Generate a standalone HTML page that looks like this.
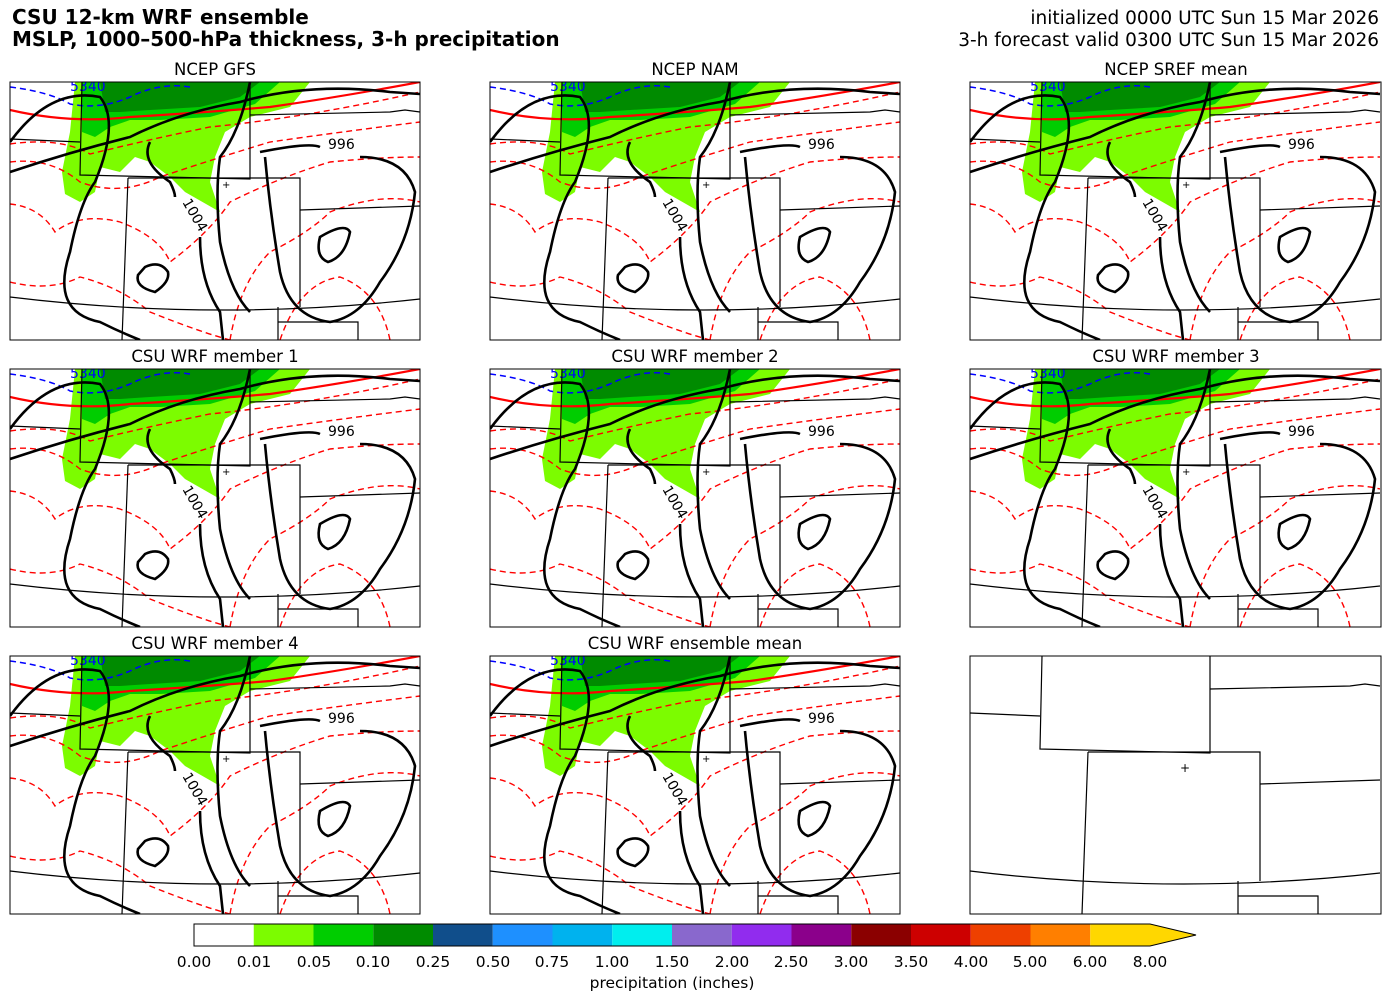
<!DOCTYPE html>
<html><head><meta charset="utf-8"><style>
body{margin:0;background:#fff;}
svg{display:block;font-family:"DejaVu Sans","Liberation Sans",sans-serif;}
</style></head><body>
<svg width="1391" height="1001" viewBox="0 0 1391 1001" xmlns="http://www.w3.org/2000/svg">
<defs>
<clipPath id="pc"><rect x="0" y="0" width="410" height="258"/></clipPath>
<g id="borders" fill="none" stroke="#000" stroke-width="1.2">
  <path d="M72,0 L70,93 L240,97 L240,0"/>
  <path d="M0,57 L70,60"/>
  <path d="M118,96 L290,96 L290,225"/>
  <path d="M118,96 L112,258"/>
  <path d="M240,33 L380,30 L395,28 L410,30"/>
  <path d="M290,128 L410,124"/>
  <path d="M0,215 Q205,240 410,217"/>
  <path d="M268,225 L268,258 M268,240 L348,240 L348,258"/>
</g>
<g id="content" clip-path="url(#pc)">
  <path d="M65,0 L300,0 L280,25 L240,35 L215,50 L205,75 L200,100 L210,130 L175,110 L160,95 L140,80 L125,75 L110,90 L90,85 L85,110 L70,120 L55,112 L52,90 L60,50 Z" fill="#7cfc00"/>
  <path d="M72,0 L270,0 L245,22 L200,35 L150,38 L120,38 L100,45 L85,55 L72,50 Z" fill="#00cd00"/>
  <path d="M90,0 L250,0 L230,15 L190,25 L140,28 L110,30 L95,30 Z" fill="#008b00"/>
  <path d="M0,5 Q40,10 60,22 Q90,28 120,15 Q150,0 180,5" fill="none" stroke="#0000ff" stroke-width="1.5" stroke-dasharray="6,4"/>
  <path d="M0,28 Q60,42 120,35 Q200,30 260,25 Q330,15 410,0" fill="none" stroke="#ff0000" stroke-width="2.2"/>
  <g fill="none" stroke="#ff0000" stroke-width="1.4" stroke-dasharray="6,4">
    <path d="M0,62 Q50,55 80,72 Q150,55 200,45 Q300,35 410,10"/>
    <path d="M0,80 Q40,75 70,100 Q110,115 150,95 Q210,75 260,60 Q330,50 410,40"/>
    <path d="M0,122 Q30,125 45,150 Q70,130 110,140 Q150,155 160,180 Q200,150 220,120 Q270,95 320,80 Q370,75 410,75"/>
    <path d="M0,200 Q40,210 70,195 Q110,205 140,230 Q190,250 220,258"/>
    <path d="M220,258 Q230,200 260,170 Q300,150 320,130 Q370,110 410,120"/>
    <path d="M270,258 Q290,200 330,195 Q370,210 380,258"/>
  </g>
  <g fill="none" stroke="#000" stroke-width="2.6">
    <path d="M0,60 Q40,5 90,15 Q110,40 85,100 Q70,120 60,170 Q40,230 90,240 Q110,250 130,258"/>
    <path d="M0,90 Q60,70 120,55 Q170,30 230,20 Q300,0 380,10 L410,12"/>
    <path d="M140,60 Q130,80 160,100 Q165,110 165,115"/>
    <path d="M190,155 Q190,200 210,230 L213,258"/>
    <path d="M240,0 Q230,50 210,75 Q205,110 210,160 Q220,210 240,230"/>
    <path d="M250,70 Q300,60 310,65 M350,75 Q395,75 405,110 Q400,160 370,200 Q350,235 320,240 Q280,235 270,190 Q260,130 255,75"/>
    <path d="M310,155 Q335,140 340,150 Q335,175 318,180 Q305,175 310,155Z"/>
    <path d="M135,185 Q150,178 158,190 Q160,200 145,210 Q125,205 128,193Z"/>
  </g>
  <text x="318" y="67" font-size="14" fill="#000">996</text>
  <text x="172" y="120" font-size="14" fill="#000" transform="rotate(60 172 120)">1004</text>
  <text x="60" y="9" font-size="14" fill="#00f">5340</text>
  <text x="212" y="106" font-size="10" fill="#000">+</text>
</g>
</defs>

<text x="12" y="24" font-size="20" font-weight="bold">CSU 12-km WRF ensemble</text>
<text x="12" y="46" font-size="20" font-weight="bold">MSLP, 1000–500-hPa thickness, 3-h precipitation</text>
<text x="1379" y="24" font-size="18.5" text-anchor="end">initialized 0000 UTC Sun 15 Mar 2026</text>
<text x="1379" y="46" font-size="18.5" text-anchor="end">3-h forecast valid 0300 UTC Sun 15 Mar 2026</text>

<g font-size="16.5" text-anchor="middle">
<text x="215" y="75">NCEP GFS</text>
<text x="695" y="75">NCEP NAM</text>
<text x="1176" y="75">NCEP SREF mean</text>
<text x="215" y="362">CSU WRF member 1</text>
<text x="695" y="362">CSU WRF member 2</text>
<text x="1176" y="362">CSU WRF member 3</text>
<text x="215" y="649">CSU WRF member 4</text>
<text x="695" y="649">CSU WRF ensemble mean</text>
</g>

<g transform="translate(10,82)"><use href="#content"/><use href="#borders"/><rect width="410" height="258" fill="none" stroke="#000"/></g>
<g transform="translate(490,82)"><use href="#content"/><use href="#borders"/><rect width="410" height="258" fill="none" stroke="#000"/></g>
<g transform="translate(970,82)"><use href="#content"/><use href="#borders"/><rect width="411" height="258" fill="none" stroke="#000"/></g>
<g transform="translate(10,369)"><use href="#content"/><use href="#borders"/><rect width="410" height="258" fill="none" stroke="#000"/></g>
<g transform="translate(490,369)"><use href="#content"/><use href="#borders"/><rect width="410" height="258" fill="none" stroke="#000"/></g>
<g transform="translate(970,369)"><use href="#content"/><use href="#borders"/><rect width="411" height="258" fill="none" stroke="#000"/></g>
<g transform="translate(10,656)"><use href="#content"/><use href="#borders"/><rect width="410" height="258" fill="none" stroke="#000"/></g>
<g transform="translate(490,656)"><use href="#content"/><use href="#borders"/><rect width="410" height="258" fill="none" stroke="#000"/></g>
<g transform="translate(970,656)"><use href="#borders"/><text x="210" y="116" font-size="12">+</text><rect width="411" height="258" fill="none" stroke="#000"/></g>

<g>
<rect x="194" y="924" width="59.75" height="22" fill="#ffffff"/>
<rect x="253.75" y="924" width="59.75" height="22" fill="#7cfc00"/>
<rect x="313.5" y="924" width="59.75" height="22" fill="#00cd00"/>
<rect x="373.25" y="924" width="59.75" height="22" fill="#008b00"/>
<rect x="433" y="924" width="59.75" height="22" fill="#104e8b"/>
<rect x="492.75" y="924" width="59.75" height="22" fill="#1e90ff"/>
<rect x="552.5" y="924" width="59.75" height="22" fill="#00b2ee"/>
<rect x="612.25" y="924" width="59.75" height="22" fill="#00eeee"/>
<rect x="672" y="924" width="59.75" height="22" fill="#8968cd"/>
<rect x="731.75" y="924" width="59.75" height="22" fill="#912cee"/>
<rect x="791.5" y="924" width="59.75" height="22" fill="#8b008b"/>
<rect x="851.25" y="924" width="59.75" height="22" fill="#8b0000"/>
<rect x="911" y="924" width="59.75" height="22" fill="#cd0000"/>
<rect x="970.75" y="924" width="59.75" height="22" fill="#ee4000"/>
<rect x="1030.5" y="924" width="59.75" height="22" fill="#ff7f00"/>
<rect x="1090.25" y="924" width="59.75" height="22" fill="#ffd700"/>
<path d="M1150,924 L1196,935 L1150,946Z" fill="#ffd700"/>
<path d="M194,924 L1150,924 L1196,935 L1150,946 L194,946Z" fill="none" stroke="#000" stroke-width="1"/>
</g>
<g font-size="15.5" text-anchor="middle">
<text x="194" y="967">0.00</text><text x="254" y="967">0.01</text><text x="314" y="967">0.05</text><text x="373" y="967">0.10</text>
<text x="433" y="967">0.25</text><text x="493" y="967">0.50</text><text x="552" y="967">0.75</text><text x="612" y="967">1.00</text>
<text x="672" y="967">1.50</text><text x="732" y="967">2.00</text><text x="791" y="967">2.50</text><text x="851" y="967">3.00</text>
<text x="911" y="967">3.50</text><text x="971" y="967">4.00</text><text x="1030" y="967">5.00</text><text x="1090" y="967">6.00</text>
<text x="1150" y="967">8.00</text>
<text x="672" y="988">precipitation (inches)</text>
</g>
</svg>
</body></html>
